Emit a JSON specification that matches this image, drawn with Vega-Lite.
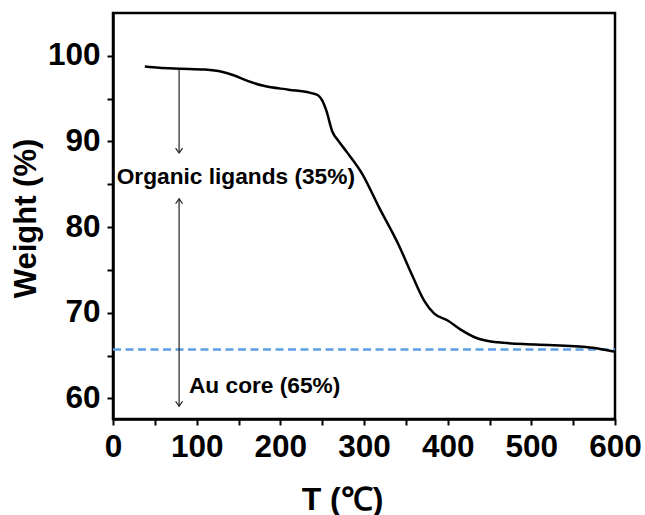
{
  "$schema": "https://vega.github.io/schema/vega-lite/v6.json",
  "width": 502,
  "height": 406,
  "autosize": {"type": "none"},
  "padding": {"left": 113, "top": 13, "right": 30, "bottom": 96},
  "background": "white",
  "config": {
    "font": "Liberation Sans",
    "view": {"stroke": "black", "strokeWidth": 2.5},
    "axis": {
      "grid": false,
      "domainColor": "black",
      "domainWidth": 2.5,
      "tickColor": "black",
      "tickWidth": 2,
      "tickSize": 6,
      "labelFont": "Liberation Sans",
      "labelFontWeight": "bold",
      "labelFontSize": 31.5,
      "labelColor": "black",
      "labelFlush": false,
      "labelBound": false,
      "titleFont": "Liberation Sans",
      "titleFontWeight": "bold",
      "titleFontSize": 31,
      "titleColor": "black"
    }
  },
  "datasets": {
    "tga": [
      {"T": 38, "W": 98.75}, {"T": 55, "W": 98.6}, {"T": 80, "W": 98.5}, {"T": 110, "W": 98.4},
      {"T": 130, "W": 98.15}, {"T": 145, "W": 97.7}, {"T": 160, "W": 97.1}, {"T": 180, "W": 96.5},
      {"T": 210, "W": 96.05}, {"T": 235, "W": 95.7}, {"T": 245, "W": 95.4}, {"T": 250, "W": 94.8},
      {"T": 255, "W": 93.6}, {"T": 262, "W": 91.2}, {"T": 270, "W": 90.0}, {"T": 280, "W": 88.7},
      {"T": 298, "W": 86.2}, {"T": 318, "W": 82.3}, {"T": 342, "W": 77.8}, {"T": 357, "W": 74.5},
      {"T": 372, "W": 71.4}, {"T": 384, "W": 69.9}, {"T": 400, "W": 69.1}, {"T": 416, "W": 68.0},
      {"T": 436, "W": 67.0}, {"T": 460, "W": 66.55}, {"T": 505, "W": 66.3}, {"T": 570, "W": 65.95},
      {"T": 600, "W": 65.45}
    ],
    "core": [{"T": 0, "W": 65.7}, {"T": 600, "W": 65.7}],
    "arrows": [
      {"T": 79, "W": 98.45, "seg": "top"}, {"T": 79, "W": 88.65, "seg": "top"},
      {"T": 79, "W": 83.3, "seg": "bottom"}, {"T": 79, "W": 59.1, "seg": "bottom"}
    ],
    "downheads": [{"T": 79, "W": 88.65}, {"T": 79, "W": 59.1}],
    "upheads": [{"T": 79, "W": 83.3}],
    "labels": [
      {"T": 4.4, "W": 85.9, "text": "Organic ligands (35%)"},
      {"T": 90.8, "W": 61.45, "text": "Au core (65%)"}
    ]
  },
  "layer": [
    {
      "data": {"name": "core"},
      "mark": {"type": "line", "color": "#5c9fe6", "strokeWidth": 2.5, "strokeDash": [8, 4.5]},
      "encoding": {
        "x": {
          "field": "T", "type": "quantitative",
          "scale": {"domain": [0, 600], "nice": false},
          "axis": {
            "values": [0, 50, 100, 150, 200, 250, 300, 350, 400, 450, 500, 550, 600],
            "labelExpr": "datum.value % 100 == 0 ? datum.label : ''",
            "labelPadding": 6,
            "labelOverlap": false,
            "title": "T (℃)",
            "titleFontSize": 32,
            "titleX": 229,
            "titleY": 90,
            "titleAlign": "center",
            "titleBaseline": "alphabetic"
          }
        },
        "y": {
          "field": "W", "type": "quantitative",
          "scale": {"domain": [57.6, 105], "nice": false, "zero": false},
          "axis": {
            "values": [60, 65, 70, 75, 80, 85, 90, 95, 100],
            "labelExpr": "datum.value % 10 == 0 ? datum.label : ''",
            "labelPadding": 7,
            "labelOverlap": false,
            "title": "Weight (%)",
            "titleAngle": -90,
            "titleX": -78,
            "titleY": 205,
            "titleAlign": "center",
            "titleBaseline": "alphabetic"
          }
        }
      }
    },
    {
      "data": {"name": "tga"},
      "mark": {"type": "line", "color": "black", "strokeWidth": 2.5, "interpolate": "monotone"},
      "encoding": {
        "x": {"field": "T", "type": "quantitative"},
        "y": {"field": "W", "type": "quantitative"}
      }
    },
    {
      "data": {"name": "arrows"},
      "mark": {"type": "line", "color": "#222222", "strokeWidth": 1.2},
      "encoding": {
        "x": {"field": "T", "type": "quantitative"},
        "y": {"field": "W", "type": "quantitative"},
        "detail": {"field": "seg"}
      }
    },
    {
      "data": {"name": "downheads"},
      "mark": {"type": "point", "shape": "M-1,-1.4L0,0L1,-1.4", "filled": false, "stroke": "#222222", "strokeWidth": 1.2, "size": 49, "opacity": 1},
      "encoding": {
        "x": {"field": "T", "type": "quantitative"},
        "y": {"field": "W", "type": "quantitative"}
      }
    },
    {
      "data": {"name": "upheads"},
      "mark": {"type": "point", "shape": "M-1,1.4L0,0L1,1.4", "filled": false, "stroke": "#222222", "strokeWidth": 1.2, "size": 49, "opacity": 1},
      "encoding": {
        "x": {"field": "T", "type": "quantitative"},
        "y": {"field": "W", "type": "quantitative"}
      }
    },
    {
      "data": {"name": "labels"},
      "mark": {"type": "text", "align": "left", "baseline": "middle", "fontSize": 22.7, "fontWeight": "bold", "font": "Liberation Sans", "color": "black"},
      "encoding": {
        "x": {"field": "T", "type": "quantitative"},
        "y": {"field": "W", "type": "quantitative"},
        "text": {"field": "text"}
      }
    }
  ]
}
